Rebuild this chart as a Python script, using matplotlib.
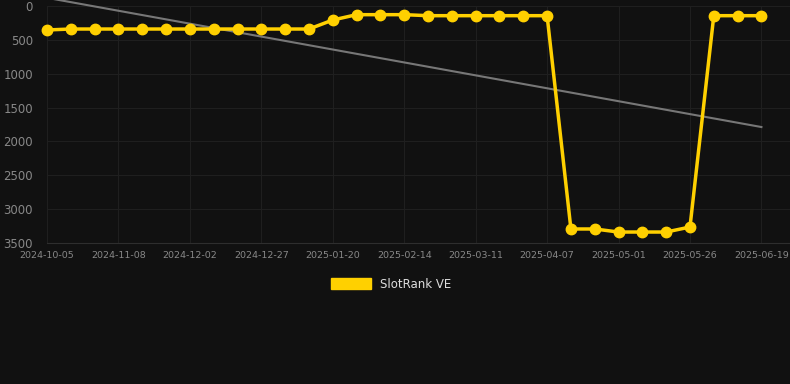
import numpy as np
import matplotlib.pyplot as plt

# rank per weekly snapshot (31 points), lower is better
rank = [354, 340, 340, 340, 340, 340, 340, 340, 340, 340, 340, 340,
        207, 128, 128, 128, 143, 143, 143, 143, 143, 143,
        3293, 3293, 3338, 3338, 3338, 3264,
        143, 143, 143]
tick_labels = ['2024-10-05', '2024-11-08', '2024-12-02', '2024-12-27',
               '2025-01-20', '2025-02-14', '2025-03-11', '2025-04-07',
               '2025-05-01', '2025-05-26', '2025-06-19']
series_name = 'SlotRank VE'

bg = '#111111'
yellow = '#ffd000'

fig = plt.figure(figsize=(7.9, 3.84), dpi=100, facecolor=bg)
ax = fig.add_axes([47 / 790, 1 - 243 / 384, 743 / 790, 237 / 384])
ax.set_facecolor(bg)

x = np.arange(len(rank))
# linear trend of the rank series
coef = np.polyfit(x, rank, 1)
ax.plot(x, np.polyval(coef, x), color='#777777', lw=1.5, zorder=2, clip_on=False)
ax.plot(x, rank, color=yellow, lw=2.5, marker='o', ms=7.5, zorder=3,
        label=series_name, clip_on=False)

ax.set_xlim(0, 31.2)
ax.set_ylim(3500, 0)
ax.set_yticks(range(0, 3501, 500))
ax.set_xticks(x[::3])
ax.set_xticklabels(tick_labels)

ax.grid(True, color='#1f1f1f', lw=0.8)
for s in ['top', 'right', 'left']:
    ax.spines[s].set_visible(False)
ax.spines['bottom'].set_color('#2e2e2e')
ax.tick_params(axis='y', length=0, colors='#888888', labelsize=8.5, pad=10)
ax.tick_params(axis='x', length=0, colors='#888888', labelsize=6.8, pad=6)

fig.legend(handles=[plt.Rectangle((0, 0), 1, 1, color=yellow)],
           labels=[series_name], loc='center', bbox_to_anchor=(391 / 790, 1 - 284 / 384),
           frameon=False, fontsize=8.5, handlelength=3.4, handleheight=1.0,
           labelcolor='#dddddd')

fig.savefig('out.png', dpi=100, facecolor=bg)
